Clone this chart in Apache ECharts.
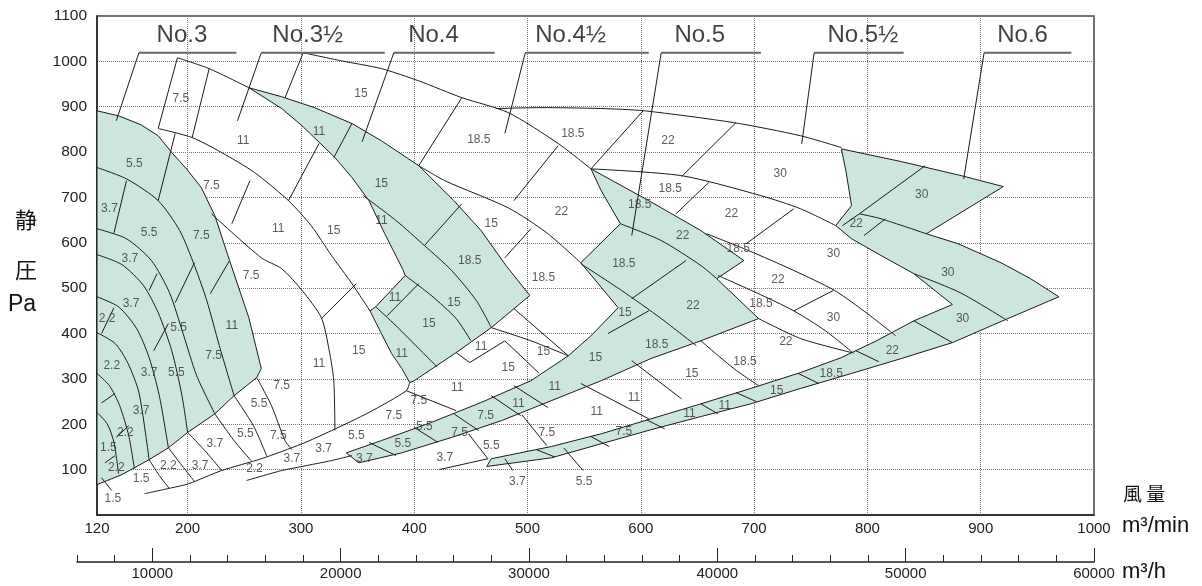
<!DOCTYPE html>
<html>
<head>
<meta charset="utf-8">
<script src="https://cdn.jsdelivr.net/npm/echarts@6/dist/echarts.min.js"></script>
<style>
  html, body { margin: 0; background: #fff; }
  #chart { width: 1202px; height: 586px; }
</style>
</head>
<body>
<div id="chart"></div>
<script>
// axis values
const flowTicks = [120, 200, 300, 400, 500, 600, 700, 800, 900, 1000];   // m3/min
const hourRange = [6000, 60000];                                         // m3/h

// fan size captions [x, y, text] and their underline span
const fanNames = [
  [195, 1057, 'No.3'], [306, 1057, 'No.3½'], [417, 1057, 'No.4'], [538, 1057, 'No.4½'],
  [652, 1057, 'No.5'], [796, 1057, 'No.5½'], [937, 1057, 'No.6']
];
const underlines = [[157, 243], [265, 374], [382, 471], [498, 607], [618, 706], [753, 832], [903, 980]];
const leaders = [
  [[157, 1019], [137, 869]], [[265, 1019], [244, 869]], [[382, 1019], [354, 823]],
  [[498, 1019], [480, 841]], [[618, 1019], [592, 616]], [[753, 1019], [742, 818]],
  [[903, 1019], [885, 741]]
];

// shaded (green) areas: No.3, No.4, No.5, No.6
const areaNo3 = [[120,891],[139,880],[159,860],[174,836],[186,799],[199,763],[212,722],[224,660],[237,561],[254,435],[265,323],[261,303],[241,263],[224,223],[200,182],[183,148],[166,122],[142,89],[120,67]];
const areaNo4 = [[254,942],[283,922],[312,898],[345,863],[371,825],[404,770],[435,693],[459,627],[481,550],[502,484],[468,413],[437,358],[400,296],[396,292],[389,323],[380,356],[371,400],[361,450],[366,459],[392,528],[390,541],[374,620],[360,693],[345,744],[330,788],[301,858],[283,896]];
const areaNo5 = [[556,763],[607,693],[653,627],[691,561],[667,521],[704,433],[653,384],[609,345],[565,296],[521,252],[477,208],[433,171],[389,137],[351,115],[340,137],[371,164],[415,204],[459,248],[503,296],[536,351],[556,395],[580,457],[547,556],[582,642],[565,715]];
const areaNo6 = [[777,807],[830,779],[883,748],[920,724],[852,620],[880,598],[918,556],[944,521],[969,481],[924,433],[875,380],[830,345],[786,312],[741,279],[697,245],[653,217],[609,188],[565,157],[521,126],[464,107],[468,124],[521,151],[565,179],[609,212],[653,245],[697,279],[741,314],[777,347],[808,384],[841,428],[875,464],[841,532],[812,572],[786,609],[772,638],[786,682],[781,759]];

// fan curves and boundaries
const curves = [
  [[302,1019],[336,1001],[371,984],[404,957],[442,920],[483,887],[527,819],[556,763]],
  [[472,896],[512,898],[565,896],[603,891],[682,865],[741,836],[777,810]],
  [[556,763],[636,748],[706,704],[741,675],[772,638]],
  [[658,620],[695,583],[735,539],[771,495],[800,444],[825,395]],
  [[668,528],[702,490],[735,450],[763,406],[788,356]],
  [[404,770],[427,737],[483,677],[517,622],[547,556]],
  [[468,413],[503,384],[536,351]],
  [[488,455],[536,351]],
  [[191,1008],[219,984],[254,942]],
  [[174,852],[204,832],[230,799],[259,755],[289,693],[309,638],[327,572],[345,510],[361,450]],
  [[221,664],[265,567],[283,543],[301,495],[318,435],[325,362],[329,296],[330,186]],
  [[162,47],[186,60],[201,69],[230,98],[265,124],[301,157],[327,186],[360,226],[393,274],[396,292]],
  [[252,76],[283,98],[301,107],[327,120],[345,131]],
  [[422,100],[465,124]],
  // No.3 speed curves
  [[120,766],[146,741],[174,693],[193,627],[206,550],[217,472],[228,373],[241,263]],
  [[120,631],[146,609],[168,561],[184,490],[196,400],[208,307],[224,223]],
  [[120,574],[142,552],[161,506],[174,446],[186,362],[195,263],[200,182]],
  [[120,481],[139,459],[155,411],[166,347],[175,263],[183,148]],
  [[120,402],[136,378],[147,336],[157,270],[166,122]],
  [[120,312],[131,285],[140,241],[148,175],[153,102]],
  [[120,226],[129,201],[135,160],[139,91]],
  // No.4 speed curves
  [[355,704],[384,649],[409,594],[433,539],[455,472],[468,413]],
  [[392,528],[415,484],[437,433],[450,384]],
  [[366,459],[384,417],[406,362],[420,327]],
  // No.5 speed curves
  [[582,642],[618,605],[653,550],[667,521]],
  [[547,554],[583,495],[618,433],[649,373]],
  // No.6 speed curves
  [[793,664],[812,653],[852,620]],
  [[841,532],[882,490],[924,428]],
  // lower left area
  [[166,122],[175,87],[184,58]],
  [[183,148],[195,109],[206,74]],
  [[200,182],[217,137],[230,98]],
  [[224,223],[241,164],[256,120]],
  [[241,263],[258,197],[270,129]],
  [[261,303],[274,241],[286,164],[292,144]],
  // No.5 1/2 band
  [[592,340],[636,256]],
  [[547,290],[607,212]],
  [[448,179],[465,124]],
  [[495,221],[517,153]],
  [[653,384],[682,323],[704,285]],
  [[704,433],[741,389],[786,358]]
];

// motor division lines
const dividers = [
  [[302,1019],[286,920]], [[191,1008],[174,852]], [[219,984],[204,832]], [[189,841],[174,693]],
  [[146,737],[135,622]], [[255,737],[239,642]], [[237,561],[220,488]], [[173,532],[166,495]],
  [[206,556],[189,468]], [[183,422],[170,362]], [[135,457],[124,400]], [[124,82],[133,54]],
  [[136,268],[124,247]], [[148,197],[137,171]], [[127,115],[136,131]],
  [[316,819],[289,693]],
  [[442,920],[404,770]], [[527,814],[488,693]], [[602,891],[556,763]], [[684,865],[636,746]],
  [[660,733],[631,664]], [[735,675],[693,598]], [[770,495],[735,450]], [[345,863],[329,788]],
  [[442,686],[409,594]], [[503,631],[480,567]], [[404,510],[376,439]], [[349,510],[318,433]],
  [[437,358],[449,336],[480,384]], [[480,384],[510,313]], [[393,274],[437,230]],
  [[793,664],[778,638]], [[816,653],[797,616]], [[851,770],[793,664]],
  [[640,561],[592,477]], [[607,450],[571,400]],
  [[480,124],[487,98]], [[532,148],[549,98]],
  // No.5 band
  [[360,160],[384,131]], [[400,193],[421,160]], [[435,223],[457,186]], [[468,263],[494,219]], [[488,285],[518,237]],
  // No.6 band
  [[508,144],[524,128]], [[556,173],[572,151]], [[605,210],[621,190]], [[653,245],[668,223]],
  [[684,270],[702,250]], [[739,312],[757,290]], [[790,362],[810,338]], [[841,428],[875,380]]
];

// motor output labels [x, y, kW]
const kwLabels = [
  [153,774,'5.5'],[131,675,'3.7'],[166,622,'5.5'],[212,616,'7.5'],[149,565,'3.7'],[150,466,'3.7'],
  [129,433,'2.2'],[192,413,'5.5'],[239,417,'11'],[223,351,'7.5'],[133,329,'2.2'],[166,314,'3.7'],
  [190,314,'5.5'],[159,230,'3.7'],[145,182,'2.2'],[130,148,'1.5'],[137,104,'2.2'],
  [134,36,'1.5'],[159,80,'1.5'],[183,109,'2.2'],[211,109,'3.7'],[224,157,'3.7'],[251,179,'5.5'],
  [280,175,'7.5'],[263,245,'5.5'],[283,285,'7.5'],[259,102,'2.2'],[292,124,'3.7'],[320,146,'3.7'],
  [349,175,'5.5'],[382,219,'7.5'],[404,252,'7.5'],[438,281,'11'],
  [194,918,'7.5'],[249,825,'11'],[221,726,'7.5'],[280,631,'11'],[256,528,'7.5'],[329,627,'15'],
  [353,929,'15'],[316,334,'11'],[351,362,'15'],
  [316,845,'11'],[371,730,'15'],[371,649,'11'],[449,561,'18.5'],[435,468,'15'],[413,422,'15'],
  [383,479,'11'],[389,356,'11'],
  [457,827,'18.5'],[540,841,'18.5'],[468,642,'15'],[530,669,'22'],[514,523,'18.5'],[459,371,'11'],
  [483,325,'15'],[514,360,'15'],
  [599,684,'18.5'],[637,616,'22'],[585,554,'18.5'],[686,587,'18.5'],[646,461,'22'],[586,446,'15'],
  [614,375,'18.5'],[560,347,'15'],[524,283,'11'],[492,245,'11'],[463,219,'7.5'],[440,182,'7.5'],
  [409,195,'5.5'],[390,157,'5.5'],[356,124,'3.7'],
  [624,825,'22'],[723,752,'30'],[626,719,'18.5'],[680,664,'22'],[770,576,'30'],[721,519,'22'],
  [706,466,'18.5'],[770,435,'30'],[728,382,'22'],[692,338,'18.5'],[645,312,'15'],[594,259,'11'],
  [561,228,'11'],[517,182,'7.5'],[468,153,'5.5'],[427,126,'3.7'],
  [848,706,'30'],[790,642,'22'],[871,534,'30'],[884,433,'30'],[822,362,'22'],[768,312,'18.5'],
  [720,274,'15'],[674,241,'11'],[643,223,'11'],[585,184,'7.5'],[491,74,'3.7'],[550,74,'5.5']
];

const GREEN = '#cde6db';
const INK = '#1a1a1a';
const FONT = 'Liberation Sans, Arial, sans-serif';

function areaSeries(pts) {
  return {
    type: 'custom', silent: true, z: 2, xAxisIndex: 0, yAxisIndex: 0,
    data: [pts[0]],
    renderItem: function (params, api) {
      return {
        type: 'polygon',
        shape: { points: pts.map(p => api.coord(p)) },
        style: { fill: GREEN, stroke: INK, lineWidth: 1 }
      };
    }
  };
}

function lineSeries(pts, color, width, z, smooth) {
  return {
    type: 'line', silent: true, z: z || 3, xAxisIndex: 0, yAxisIndex: 0,
    data: pts, showSymbol: false, symbol: 'none', smooth: smooth || false,
    lineStyle: { color: color || INK, width: width || 1 }, animation: false
  };
}

const series = [];
[areaNo3, areaNo4, areaNo5, areaNo6].forEach(a => series.push(areaSeries(a)));
curves.forEach(c => series.push(lineSeries(c, INK, 1, 3, c.length > 2 ? 0.25 : false)));
dividers.forEach(d => series.push(lineSeries(d, INK, 1, 3)));
underlines.forEach(u => series.push(lineSeries([[u[0], 1019], [u[1], 1019]], '#666', 2, 5)));
leaders.forEach(l => series.push(lineSeries(l, INK, 1, 5)));

series.push({
  type: 'scatter', silent: true, z: 6, xAxisIndex: 0, yAxisIndex: 0,
  symbolSize: 0, data: kwLabels,
  label: { show: true, position: 'inside', formatter: p => p.value[2], fontSize: 12, color: '#333', fontFamily: FONT }
});
series.push({
  type: 'scatter', silent: true, z: 6, xAxisIndex: 0, yAxisIndex: 0,
  symbolSize: 0, data: fanNames,
  label: { show: true, position: 'inside', formatter: p => p.value[2], fontSize: 24, color: '#111', fontFamily: FONT }
});

const plain = v => String(v);

const chart = echarts.init(document.getElementById('chart'));
chart.setOption({
  animation: false,
  textStyle: { fontFamily: FONT },
  grid: [
    { left: 97, right: 108, top: 16, bottom: 71, show: true, borderColor: '#444', borderWidth: 1.5 },
    { left: 77, right: 108, top: 560, height: 2 },
    { left: 152.3, right: 108, top: 560, height: 2 }
  ],
  xAxis: [
    {
      type: 'value', min: 120, max: 1000, gridIndex: 0,
      axisLine: { show: true, lineStyle: { color: '#222', width: 1.5 } },
      axisTick: { show: false, customValues: flowTicks },
      axisLabel: { customValues: flowTicks, fontSize: 15, color: '#222', margin: 6, formatter: plain },
      splitLine: { show: true, lineStyle: { color: '#777', type: 'dotted', width: 1 } }
    },
    {
      type: 'value', min: hourRange[0], max: hourRange[1], interval: 2000, gridIndex: 1,
      axisLine: { show: true, lineStyle: { color: '#222', width: 1.5 } },
      axisTick: { show: true, inside: true, length: 7, lineStyle: { color: '#222' } },
      axisLabel: { show: false },
      splitLine: { show: false }
    },
    {
      type: 'value', min: 10000, max: hourRange[1], interval: 10000, gridIndex: 2,
      axisLine: { show: false },
      axisTick: { show: true, inside: true, length: 14, lineStyle: { color: '#222' } },
      axisLabel: { show: true, fontSize: 15, color: '#222', margin: 4, formatter: plain },
      splitLine: { show: false }
    }
  ],
  yAxis: [
    {
      type: 'value', min: 0, max: 1100, interval: 100, gridIndex: 0,
      axisLine: { show: true, lineStyle: { color: '#222', width: 1.5 } },
      axisTick: { show: false },
      axisLabel: { fontSize: 15.5, color: '#222', margin: 10, formatter: v => (v === 0 ? '' : String(v)) },
      splitLine: { show: true, lineStyle: { color: '#777', type: 'dotted', width: 1 } }
    },
    { type: 'value', gridIndex: 1, show: false },
    { type: 'value', gridIndex: 2, show: false }
  ],
  graphic: [
    { type: 'text', left: 15, top: 209, style: { text: '静', fontSize: 22, fill: '#111', fontFamily: 'Noto Sans CJK JP' } },
    { type: 'text', left: 15, top: 259, style: { text: '圧', fontSize: 22, fill: '#111', fontFamily: 'Noto Sans CJK JP' } },
    { type: 'text', left: 8, top: 293, style: { text: 'Pa', fontSize: 23, fill: '#111', fontFamily: FONT } },
    { type: 'text', left: 1123, top: 484, style: { text: '風 量', fontSize: 19, fill: '#111', fontFamily: 'Noto Sans CJK JP' } },
    { type: 'text', left: 1122, top: 515, style: { text: 'm³/min', fontSize: 22, fill: '#111', fontFamily: FONT } },
    { type: 'text', left: 1122, top: 561, style: { text: 'm³/h', fontSize: 22, fill: '#111', fontFamily: FONT } }
  ],
  series: series
});
</script>
</body>
</html>
